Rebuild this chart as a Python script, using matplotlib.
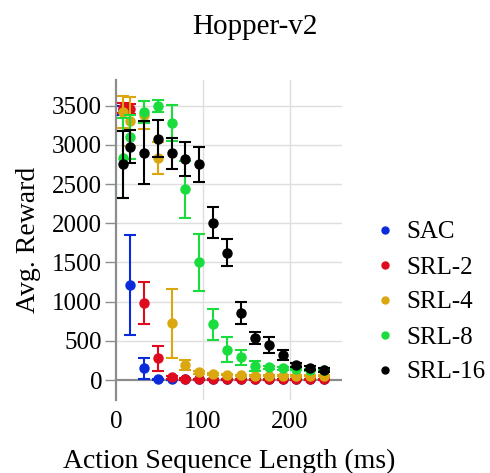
import numpy as np
import matplotlib
matplotlib.use('Agg')
import matplotlib.pyplot as plt
from matplotlib.lines import Line2D

#==========================================================
# Data
#==========================================================
seq_len = [8, 16, 32, 48, 64, 80, 96, 112, 128, 144, 160, 176, 192, 208, 224, 240]

sac_mean = [3440, 1210, 150, 10, 10, 8, 8, 8, 8, 8, 8, 8, 8, 8, 8, 8]
sac_err = [60, 640, 135, 5, 5, 5, 5, 5, 5, 5, 5, 5, 5, 5, 5, 5]

srl2_mean = [3470, 3460, 980, 278, 36, 15, 12, 12, 12, 10, 10, 10, 10, 10, 10, 10]
srl2_err = [60, 60, 265, 160, 20, 10, 8, 8, 8, 8, 8, 8, 8, 8, 8, 8]

srl4_mean = [3420, 3300, 3381, 2829, 724, 193, 97, 76, 70, 60, 58, 58, 56, 58, 58, 58]
srl4_err = [200, 310, 183, 205, 440, 58, 20, 12, 10, 10, 8, 8, 8, 8, 8, 8]

srl8_mean = [2829, 3105, 3423, 3496, 3275, 2434, 1502, 711, 390, 291, 184, 163, 150, 140, 130, 125]
srl8_err = [510, 280, 140, 75, 230, 360, 362, 197, 155, 95, 64, 20, 15, 10, 10, 10]

srl16_mean = [2753, 2977, 2900, 3079, 2893, 2824, 2756, 2008, 1625, 856, 533, 448, 320, 193, 150, 129]
srl16_err = [425, 213, 400, 235, 195, 217, 223, 196, 170, 142, 75, 107, 68, 30, 25, 20]

labels = ['SAC', 'SRL-2', 'SRL-4', 'SRL-8', 'SRL-16']
colors = ['#0a2bdc', '#e00a1e', '#dba70f', '#19dc3d', '#000000']
means = [sac_mean, srl2_mean, srl4_mean, srl8_mean, srl16_mean]
errs = [sac_err, srl2_err, srl4_err, srl8_err, srl16_err]

#==========================================================
# plot
#==========================================================
plt.rcParams['font.family'] = ['Liberation Serif', 'DejaVu Serif']

fig = plt.figure(figsize=(4.9, 4.73), dpi=100)
ax = fig.add_axes([116/490, 1-400/473, 226/490, 320/473])

for i in range(5):
    ax.errorbar(seq_len, means[i], yerr=errs[i], fmt='o', color=colors[i],
                ms=6.5, elinewidth=1.5, capsize=4.5, capthick=1.5, zorder=3+i)

ax.set_xlim(0, 260.5)
ax.set_ylim(-254, 3828)
ax.set_xticks([0, 100, 200])
ax.set_yticks(np.arange(0, 3501, 500))

# grid & zero line
for v in np.arange(500, 3501, 500):
    ax.axhline(v, color='#dedede', lw=1, zorder=1)
for v in [100, 200]:
    ax.axvline(v, color='#dedede', lw=1, zorder=1)
ax.axhline(0, color='#8c8c8c', lw=1.6, zorder=2)

for s in ['top', 'right', 'bottom']:
    ax.spines[s].set_visible(False)
ax.spines['left'].set_color('#8c8c8c')
ax.spines['left'].set_linewidth(1.6)

ax.tick_params(axis='y', labelsize=18, length=8, width=1, color='#8c8c8c', pad=2)
ax.tick_params(axis='x', labelsize=18, length=0, pad=8)

ax.set_xlabel('Action Sequence Length (ms)', fontsize=20, labelpad=11)
ax.set_ylabel('Avg. Reward', fontsize=20, labelpad=8)
fig.text(255/490, 1-27/473, 'Hopper-v2', fontsize=21, ha='center', va='center')

handles = [Line2D([], [], ls='none', marker='o', ms=5, color=c) for c in colors]
fig.legend(handles, labels, loc='upper left', bbox_to_anchor=(362/490, 1-211/473),
           frameon=False, fontsize=18, handlelength=1.0, handletextpad=0.38,
           labelspacing=0.50, borderaxespad=0)

plt.savefig('out.png', dpi=100)
plt.close()
